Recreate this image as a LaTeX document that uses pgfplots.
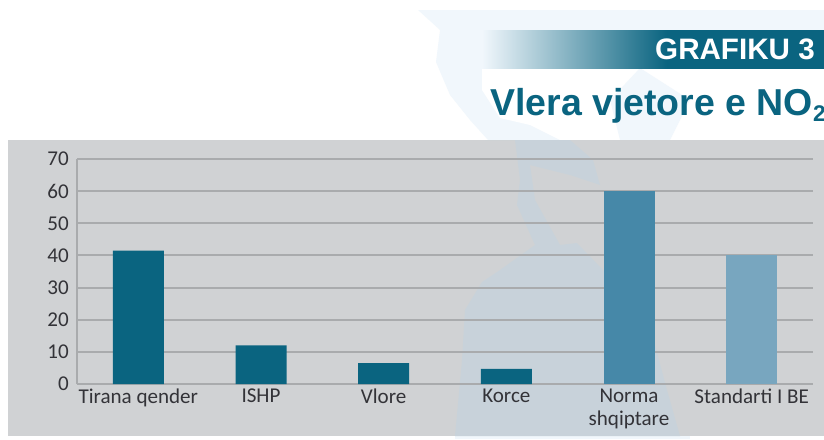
\documentclass[border=0pt]{standalone}
\usepackage{pgfplots}
\pgfplotsset{compat=1.18}
\usepackage{fontspec}
\setmainfont{Carlito}
\newfontfamily\headfont{Liberation Sans}
\definecolor{teal1}{HTML}{0A6480}
\definecolor{panel}{HTML}{D0D2D4}
\definecolor{gridc}{HTML}{A9ABAD}
\definecolor{mapA}{HTML}{F1F7FC}
\definecolor{mapB}{HTML}{C8D2DA}
\definecolor{normac}{HTML}{4688A8}
\definecolor{stdc}{HTML}{78A6BF}
\definecolor{labc}{HTML}{333338}
\pgfdeclarehorizontalshading{hd}{100bp}{color(0bp)=(mapA);color(25bp)=(mapA);color(52bp)=(teal1);color(100bp)=(teal1)}
\begin{document}
\begin{tikzpicture}
\begin{scope}[x=0.75pt,y=-0.75pt]
\clip (0,0) rectangle (824,439);
\path[fill=white] (0,0) rectangle (824,439);
% pale map backdrop
\fill[mapA] (418,10) -- (824,10) -- (824,140) -- (488,140) -- (470,120) -- (450,95) -- (436,62) -- (440,30) -- cycle;
\fill[white] (482,68) -- (824,68) -- (824,140) -- (560,140) -- (530,125) -- (500,118) -- (482,90) -- cycle;
\fill[mapA] (640,68) -- (690,100) -- (670,140) -- (620,140) -- (610,100) -- cycle;
\fill[mapA] (455,436) -- (690,436) -- (690,439) -- (455,439) -- cycle;
% panel
\fill[panel] (8,140) rectangle (824,436);
\fill[mapB] (485,140) -- (515,140) -- (520,180) -- (517,205) -- (535,245) -- (500,270) -- (482,282) -- (465,310) -- (462,360) -- (455,436)
 -- (680,436) -- (667,390) -- (655,345) -- (640,315) -- (603,270) -- (577,243) -- (560,245) -- (535,200) -- (530,165) -- (570,175)
 -- (600,185) -- (593,160) -- (570,140) -- cycle;
% header
\shade[shading=hd] (482,30) rectangle (824,68);
\node[anchor=base east,inner sep=0pt,text=white,font=\headfont\bfseries\fontsize{22.2pt}{26pt}\selectfont] at (815,59.5) {GRAFIKU 3};
\node[anchor=base west,inner sep=0pt,text=teal1,font=\headfont\bfseries\fontsize{28.1pt}{32pt}\selectfont] at (490,115) {Vlera vjetore e NO\raisebox{-5pt}{\fontsize{17pt}{20pt}\selectfont 2}};
\end{scope}
\begin{axis}[
  at={(57.75pt,-288pt)},anchor=south west,
  scale only axis,width=552pt,height=168.75pt,
  xmin=-0.5,xmax=5.5,ymin=0,ymax=70,
  ytick={0,10,...,70},xtick={0,1,2,3,4,5},
  xticklabels={Tirana qender,ISHP,Vlore,\raisebox{2pt}{Korce},{Norma\\shqiptare},\raisebox{-3pt}{Standarti I BE}},
  axis x line*=bottom,axis y line*=left,
  axis line style={gridc,line width=1.5pt,-},
  ymajorgrids,grid style={gridc,line width=1.5pt},
  major tick length=0pt,
  tick style={draw=none},
  /pgf/number format/assume math mode=true,
  ticklabel style={text=labc,font=\fontsize{15.8pt}{17pt}\selectfont},
  xticklabel style={align=center,inner sep=0pt,yshift=-3.5pt},
  yticklabel style={inner sep=0pt,xshift=-6pt},
  ybar,bar shift=0pt,bar width=38.25pt,
]
\addplot[fill=teal1,draw=none] coordinates {(0,41.5) (1,12) (2,6.5) (3,4.7)};
\addplot[fill=normac,draw=none] coordinates {(4,60)};
\addplot[fill=stdc,draw=none] coordinates {(5,40)};
\end{axis}
\path[use as bounding box] (0,0) rectangle (618pt,-329.25pt);
\end{tikzpicture}
\end{document}
